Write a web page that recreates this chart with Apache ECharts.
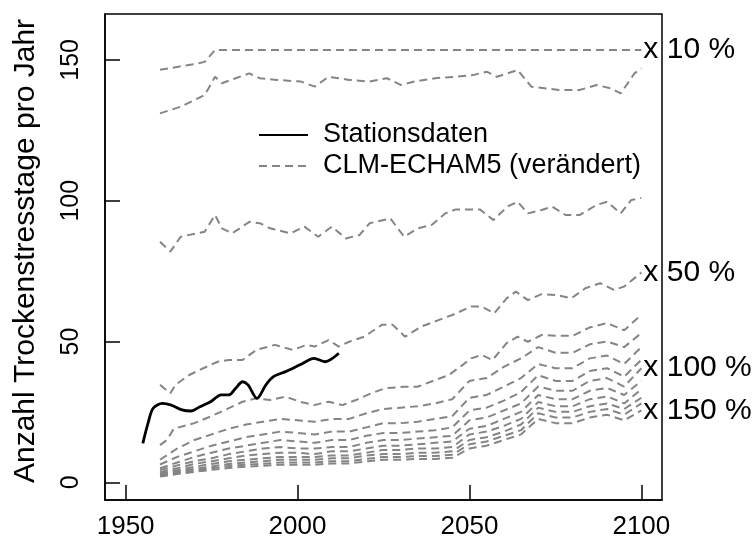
<!DOCTYPE html>
<html><head><meta charset="utf-8">
<script src="https://cdn.jsdelivr.net/npm/echarts@6/dist/echarts.min.js"></script>
<style>html,body{margin:0;padding:0;background:#fff}#c{width:753px;height:549px}</style>
</head><body><div id="c"></div>
<script>
// ---- data ----
const stationYears  = [1955,1956.5,1958,1960.7,1963.3,1966.4,1969,1971.6,1974.7,1977.8,1980,1982,1984,1985.6,1988.2,1990.8,1993,1996.5,2000.7,2004.8,2008,2012];
const stationValues = [13.8,20.9,26.3,28.0,27.4,25.7,25.3,26.8,28.6,31.0,31.0,33.4,35.7,34.6,29.8,34.6,37.5,39.3,41.7,44.0,42.8,45.8];

const years10 = [1960,1965,1970,1973,1976,2100];
const f10     = [146.5,147.5,148.5,149.3,153.5,153.5];

const years20 = [1960,1966,1973,1976,1978,1982,1986,1989,1994,2001,2005,2009,2015,2021,2026,2030,2034,2040,2046,2051,2055,2058,2064,2068,2076,2082,2087,2091,2094,2098,2100];
const f20     = [131.0,133.4,137.5,144.0,141.7,143.5,145.2,143.5,142.9,142.3,140.5,144.0,142.9,142.3,143.5,141.1,142.3,143.5,144.0,144.6,145.8,144.0,146.4,140.5,139.3,139.3,141.1,139.9,138.1,145.2,147.0];

const years30 = [1960,1963,1966,1973,1976,1978,1981,1986,1989,1992,1998,2002,2006,2010,2014,2018,2021,2027,2031,2035,2039,2043,2046,2053,2057,2061,2064,2067,2071,2074,2078,2082,2087,2090,2094,2097,2100];
const f30     = [85.4,81.9,87.2,89.0,94.9,90.2,88.4,92.5,92.0,90.2,88.4,90.8,87.2,90.8,86.6,87.8,92.0,93.7,87.2,90.2,91.4,95.5,96.9,96.9,93.1,97.9,99.6,95.5,96.7,97.9,94.9,94.9,98.5,99.6,95.5,100.2,101.0];

const years50 = [1960,1963,1964.5,1968.5,1972.6,1976.8,1980,1984,1988,1993.4,1998.6,2002.7,2005,2009,2012,2015,2019.4,2024.5,2027.7,2031.3,2036,2041,2045,2050.5,2053.6,2057.2,2060.8,2063.5,2067,2071,2075.4,2079.6,2083.7,2088,2092,2095,2100];
const f50     = [34.6,31.6,34.6,38.1,40.5,42.8,43.4,43.4,47.0,48.8,47.0,48.8,48.2,50.5,48.2,49.9,51.7,55.9,55.9,51.7,55.3,57.6,59.4,62.4,62.4,60.0,65.3,67.7,64.7,66.8,66.5,65.3,68.9,70.7,68.3,69.5,74.5];

const years60 = [1960,1962,1964,1970,1975,1980,1984,1988,1992,1996.5,2000.7,2004.8,2009,2013,2017,2021.4,2025.5,2030.8,2034.9,2040,2044,2047.4,2050.5,2053.6,2056.7,2060.8,2064,2067,2071,2075,2080,2085,2090,2095,2100];
const f60     = [13.2,15.0,19.0,21.0,23.5,26.3,28.6,29.8,29.2,30.4,28.6,27.4,28.6,27.4,29.2,31.6,33.4,33.9,33.9,36.3,38.1,41.1,44.0,45.2,43.4,49.4,51.7,49.9,52.3,52.0,52.0,55.0,56.5,54.0,59.5];

const modelYears = [1960,1965,1970,1975,1980,1985,1990,1995,2000,2005,2010,2015,2020,2025,2030,2035,2040,2045,2050,2055,2060,2065,2070,2075,2080,2085,2090,2095,2100];
const f70  = [8.0,12.0,15.0,17.0,19.0,20.5,21.5,22.5,22.0,21.5,22.5,22.5,24.5,26.0,26.5,27.0,28.0,29.5,36.0,37.0,41.0,44.0,48.0,46.0,46.0,49.0,50.0,48.0,53.0];
const f80  = [6.3,9.0,11.0,13.0,14.5,16.0,17.0,18.0,17.5,17.0,18.0,18.0,19.5,21.0,21.0,21.5,22.5,23.5,30.0,31.0,34.0,37.0,42.0,40.5,40.5,44.0,45.0,42.0,48.0];
const f90  = [5.0,7.0,9.0,10.5,12.0,13.0,14.0,15.0,14.5,14.0,15.0,15.0,16.5,17.5,17.5,18.0,18.5,19.5,25.5,26.5,29.0,32.0,38.0,36.0,36.0,39.5,40.5,37.5,43.5];
const f100 = [4.3,6.0,7.5,8.5,10.0,11.0,12.0,12.5,12.0,12.0,12.5,12.5,14.0,15.0,15.0,15.5,16.0,16.5,22.0,23.0,25.5,28.0,34.0,32.5,32.5,36.0,37.0,34.0,40.5];
const f110 = [3.6,5.0,6.5,7.5,8.5,9.5,10.0,10.5,10.5,10.0,11.0,11.0,12.0,13.0,13.0,13.5,14.0,14.5,19.0,20.0,22.5,25.0,31.0,29.5,29.5,32.5,33.5,31.0,36.0];
const f120 = [3.1,4.3,5.5,6.5,7.5,8.0,8.5,9.0,9.0,9.0,9.5,9.5,10.5,11.5,11.5,12.0,12.0,12.5,17.0,18.0,20.0,22.5,28.5,27.0,27.0,29.5,30.5,28.0,33.0];
const f130 = [2.7,3.8,4.8,5.6,6.5,7.0,7.5,8.0,8.0,8.0,8.5,8.5,9.5,10.0,10.0,10.5,10.5,11.0,15.0,16.0,18.0,20.5,26.5,25.0,25.0,27.0,28.0,26.0,30.0];
const f140 = [2.3,3.3,4.2,5.0,5.8,6.2,6.6,7.0,7.0,7.0,7.5,7.5,8.3,9.0,9.0,9.3,9.3,9.8,13.5,14.5,16.5,18.5,24.5,23.0,23.0,25.0,26.0,24.0,28.0];
const f150 = [2.0,2.9,3.7,4.4,5.1,5.5,5.9,6.2,6.2,6.2,6.7,6.7,7.4,8.0,8.0,8.3,8.3,8.7,12.0,13.0,15.0,17.0,22.5,21.0,21.0,23.0,24.0,22.0,25.5];

const modelLines = [
  [years10, f10, 'x 10 %'], [years20, f20, null], [years30, f30, null], [years50, f50, 'x 50 %'],
  [years60, f60, null], [modelYears, f70, null], [modelYears, f80, null], [modelYears, f90, null],
  [modelYears, f100, 'x 100 %'], [modelYears, f110, null], [modelYears, f120, null],
  [modelYears, f130, null], [modelYears, f140, null], [modelYears, f150, 'x 150 %']
];
const xTicks = [1950,2000,2050,2100];
const yTicks = [0,50,100,150];
const stationName = 'Stationsdaten';
const modelName = 'CLM-ECHAM5 (verändert)';
const yTitle = 'Anzahl Trockenstresstage pro Jahr';

// ---- chart ----
const FONT = 'Liberation Sans, Arial, Helvetica, sans-serif';
const GREY = '#858585';
const chart = echarts.init(document.getElementById('c'), null, {renderer:'canvas'});
const series = [];
modelLines.forEach(([yrs, vals, lab]) => {
  const s = {
    name: modelName, type: 'line', symbol: 'none', showSymbol: false, silent: true,
    data: yrs.map((y, i) => [y, vals[i]]),
    lineStyle: {color: GREY, width: 2, type: [8, 5]},
    itemStyle: {color: GREY},
    z: 2
  };
  if (lab) {
    s.endLabel = {show: true, formatter: lab, distance: 2, color: '#000',
                  fontSize: 30, fontFamily: FONT};
  }
  series.push(s);
});
series.push({
  name: stationName, type: 'line', symbol: 'none', showSymbol: false, silent: true, smooth: 0.3,
  data: stationYears.map((y, i) => [y, stationValues[i]]),
  lineStyle: {color: '#000', width: 2.8, type: 'solid'},
  itemStyle: {color: '#000'},
  z: 3
});

chart.setOption({
  animation: false,
  backgroundColor: '#fff',
  grid: {left: 105, top: 14, right: 91, bottom: 49, show: true, borderColor: '#000', borderWidth: 1.5,
         containLabel: false, outerBoundsMode: 'none'},
  legend: {
    data: [stationName, modelName], orient: 'vertical', left: 253, top: 116,
    itemWidth: 49, itemHeight: 14, itemGap: 3, selectedMode: false,
    itemStyle: {opacity: 0},
    textStyle: {fontSize: 27, fontFamily: FONT, color: '#000', padding: [0,0,0,10], lineHeight: 28}
  },
  xAxis: {
    type: 'value', min: 1944, max: 2106,
    axisLine: {show: true, onZero: false, lineStyle: {color: '#000', width: 1.5}},
    axisTick: {show: true, inside: true, length: 15, customValues: xTicks, lineStyle: {color: '#000', width: 1.5}},
    axisLabel: {customValues: xTicks, formatter: v => String(v), fontSize: 26, fontFamily: FONT, color: '#000', margin: 14},
    splitLine: {show: false}
  },
  yAxis: {
    type: 'value', min: -6.3, max: 166.3,
    axisLine: {show: true, onZero: false, lineStyle: {color: '#000', width: 1.5}},
    axisTick: {show: true, inside: true, length: 15, customValues: yTicks, lineStyle: {color: '#000', width: 1.5}},
    axisLabel: {customValues: yTicks, formatter: v => String(v), rotate: 90, fontSize: 25, fontFamily: FONT, color: '#000', margin: 21},
    splitLine: {show: false},
    name: yTitle, nameLocation: 'middle', nameRotate: 90, nameGap: 64,
    nameTextStyle: {fontSize: 30, fontFamily: FONT, color: '#000', padding: [0, 0, 0, 12]}
  },
  series: series
});
</script>
</body></html>
